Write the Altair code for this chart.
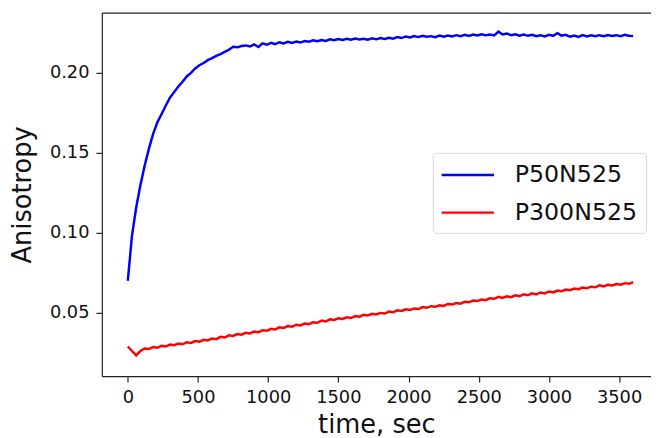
import altair as alt
import pandas as pd

# ---- data ----
time_s = list(range(0, 3601, 30))

p50n525 = [
    0.0700, 0.0985, 0.1160, 0.1300, 0.1420, 0.1525, 0.1618, 0.1690, 0.1742, 0.1795,
    0.1845, 0.1880, 0.1915, 0.1945, 0.1978, 0.2000, 0.2028, 0.2048, 0.2062, 0.2080,
    0.2092, 0.2106, 0.2118, 0.2132, 0.2145, 0.2163, 0.2160, 0.2168, 0.2172, 0.2165,
    0.2178, 0.2162, 0.2185, 0.2176, 0.2188, 0.2180, 0.2192, 0.2185, 0.2195, 0.2188,
    0.2196, 0.2190, 0.2200, 0.2195, 0.2204, 0.2198, 0.2206, 0.2200, 0.2210, 0.2204,
    0.2212, 0.2206, 0.2213, 0.2208, 0.2215, 0.2209, 0.2214, 0.2208, 0.2216, 0.2210,
    0.2218, 0.2212, 0.2220, 0.2214, 0.2224, 0.2218, 0.2228, 0.2222, 0.2230, 0.2224,
    0.2232, 0.2226, 0.2230, 0.2224, 0.2233, 0.2227, 0.2234, 0.2228, 0.2236, 0.2229,
    0.2238, 0.2231, 0.2240, 0.2234, 0.2242, 0.2235, 0.2240, 0.2234, 0.2258, 0.2240,
    0.2246, 0.2236, 0.2242, 0.2233, 0.2240, 0.2232, 0.2238, 0.2230, 0.2236, 0.2228,
    0.2238, 0.2232, 0.2248, 0.2233, 0.2238, 0.2226, 0.2234, 0.2225, 0.2236, 0.2228,
    0.2235, 0.2229, 0.2236, 0.2230, 0.2237, 0.2231, 0.2236, 0.2229, 0.2238, 0.2232,
    0.2230,
]

p300n525 = [
    0.0290, 0.0262, 0.0234, 0.0262, 0.0278, 0.0274, 0.0286, 0.0282, 0.0294, 0.0290,
    0.0302, 0.0298, 0.0308, 0.0304, 0.0316, 0.0312, 0.0324, 0.0320, 0.0332, 0.0328,
    0.0340, 0.0336, 0.0350, 0.0346, 0.0360, 0.0356, 0.0368, 0.0364, 0.0376, 0.0372,
    0.0384, 0.0380, 0.0392, 0.0388, 0.0400, 0.0396, 0.0410, 0.0406, 0.0418, 0.0414,
    0.0426, 0.0422, 0.0434, 0.0430, 0.0442, 0.0438, 0.0452, 0.0446, 0.0460, 0.0456,
    0.0466, 0.0462, 0.0472, 0.0468, 0.0480, 0.0476, 0.0488, 0.0484, 0.0494, 0.0490,
    0.0500, 0.0496, 0.0508, 0.0504, 0.0516, 0.0512, 0.0522, 0.0518, 0.0528, 0.0524,
    0.0536, 0.0532, 0.0542, 0.0538, 0.0548, 0.0544, 0.0556, 0.0552, 0.0562, 0.0558,
    0.0570, 0.0566, 0.0578, 0.0574, 0.0584, 0.0580, 0.0592, 0.0588, 0.0600, 0.0594,
    0.0604, 0.0598, 0.0610, 0.0604, 0.0616, 0.0610, 0.0622, 0.0616, 0.0628, 0.0622,
    0.0634, 0.0628, 0.0640, 0.0636, 0.0646, 0.0642, 0.0652, 0.0648, 0.0658, 0.0654,
    0.0664, 0.0660, 0.0672, 0.0666, 0.0676, 0.0672, 0.0680, 0.0676, 0.0686, 0.0682,
    0.0692,
]

series_names = ["P50N525", "P300N525"]
series_colors = ["#0000ff", "#ff0000"]
x_ticks = [0, 500, 1000, 1500, 2000, 2500, 3000, 3500]
y_ticks = [0.05, 0.10, 0.15, 0.20]

n = len(time_s)
df = pd.DataFrame({
    "time": time_s + time_s,
    "value": p50n525 + p300n525,
    "series": [series_names[0]] * n + [series_names[1]] * n,
})

FONT = "DejaVu Sans"
x_scale = alt.Scale(domain=[-185, 3727], nice=False, zero=False)
y_scale = alt.Scale(domain=[0.0105, 0.2377], nice=False, zero=False)

lines = alt.Chart(df).mark_line(strokeWidth=2.5, clip=True).encode(
    x=alt.X("time:Q", scale=x_scale,
            axis=alt.Axis(values=x_ticks, title="time, sec", format="d",
                          ticks=True, tickSize=6, labelPadding=7, titlePadding=5,
                          grid=False)),
    y=alt.Y("value:Q", scale=y_scale,
            axis=alt.Axis(values=y_ticks, title="Anisotropy", format=".2f",
                          ticks=True, tickSize=6, labelPadding=7, titlePadding=14,
                          grid=False)),
    color=alt.Color("series:N",
                    scale=alt.Scale(domain=series_names, range=series_colors),
                    legend=alt.Legend(
                        title=None, orient="none", legendX=335, legendY=142,
                        symbolType="M-2,0H2", symbolSize=702, symbolStrokeWidth=2.5,
                        symbolOffset=13, labelOffset=33,
                        labelFont=FONT, labelFontSize=24, labelColor="#111111",
                        padding=8, rowPadding=11,
                        strokeColor="#d6d6d6", cornerRadius=4, fillColor="white",
                    )),
    detail="series:N",
)

frame_top = alt.Chart(df).mark_line(opacity=0).encode(
    x=alt.X("time:Q", scale=x_scale,
            axis=alt.Axis(orient="top", labels=False, ticks=False, title=None,
                          grid=False)),
    y=alt.Y("value:Q", scale=y_scale,
            axis=alt.Axis(orient="right", labels=False, ticks=False, title=None,
                          domain=False, grid=False)),
)

chart = alt.layer(lines, frame_top).resolve_axis(
    x="independent", y="independent"
).properties(
    width=556, height=368,
    autosize=alt.AutoSizeParams(type="none"),
    padding={"left": 95, "top": 2, "right": 0, "bottom": 60},
).configure_view(stroke=None).configure_axis(
    domainColor="#222222", domainWidth=1.2,
    tickColor="#222222", tickWidth=1.2,
    labelFont=FONT, labelFontSize=18, labelColor="#111111",
    titleFont=FONT, titleFontSize=26, titleFontWeight="normal", titleColor="#111111",
)

chart.save("out.html", embed_options={"renderer": "svg", "actions": False})
